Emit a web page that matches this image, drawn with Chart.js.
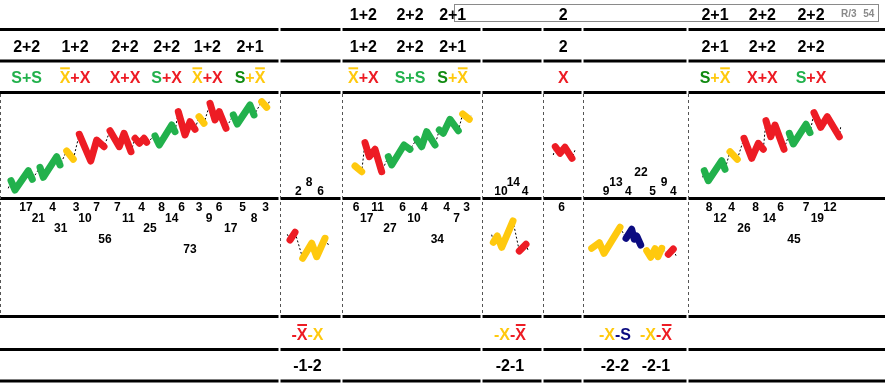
<!DOCTYPE html>
<html><head><meta charset="utf-8">
<script src="https://cdn.jsdelivr.net/npm/chart.js@4/dist/chart.umd.min.js"></script>
<style>html,body{margin:0;padding:0;background:#fff;overflow:hidden}canvas{display:block}</style>
</head><body><canvas id="c" width="885" height="387"></canvas>
<script>
// ---------- DATA ----------
// header rows
const headerTopLabels = ['1+2','2+2','2+1','2','2+1','2+2','2+2'];
const headerTopX = [363.3,410,452.7,563.3,715,762.3,811];
const countLabels = ['2+2','1+2','2+2','2+2','1+2','2+1','1+2','2+2','2+1','2','2+1','2+2','2+2'];
const patternLabels = ['S+S','Xb+X','X+X','S+X','Xb+X','S+Xb','Xb+X','S+S','S+Xb','X','S+Xb','X+X','S+X'];
const labelX = [26.7,75,125,166.7,207.3,250,363.3,410,452.7,563.3,715,762.3,811];
// bottom rows
const bottomPatternLabels = ['-Xb-X','-X-Xb','-X-S','-X-Xb'];
const bottomCountLabels = ['-1-2','-2-1','-2-2','-2-1'];
const bottomX = [307.5,510,615,656];
// column boundaries (x units)
const columnBounds = [0,279.5,341.5,481.5,542.5,582.5,687.5,885];

// wave segments: kind S / X / Xb ; points [x, level]
const upLeftLead = [8.3,9.7], upLeftTail = [269.3,96.3];
const upLeftSegs = [
  {kind:'S', v:[[11,17.3],[15,8],[28.3,27.3],[32.3,18.7]]},
  {kind:'S', v:[[40,30.7],[43.3,20.7],[56.7,41.3],[60,33]]},
  {kind:'Xb',v:[[66.7,47],[73.3,38.7]]},
  {kind:'X', v:[[79.3,63.7],[90.7,37],[96.7,58],[104,51.3]]},
  {kind:'X', v:[[110,67.3],[119.3,51.3],[124,64.7],[131,46.3]]},
  {kind:'X', v:[[135,59.7],[139.3,54.7],[144,59.7],[146.7,55.7]]},
  {kind:'S', v:[[155,62],[159.3,53],[171.7,73],[175,66.3]]},
  {kind:'X', v:[[178.3,86.3],[185,63],[190,76.3],[195,68.7]]},
  {kind:'Xb',v:[[199,81.3],[204,74.7]]},
  {kind:'X', v:[[210,94.7],[215,78],[219.3,86.3],[226,69.7]]},
  {kind:'S', v:[[233.3,83],[237.3,74],[250,93],[254,83]]},
  {kind:'Xb',v:[[261.7,96.3],[266.7,90.7]]}
];
const upMidLead = null, upMidTail = [471.7,84];
const upMidSegs = [
  {kind:'Xb',v:[[355,32],[361.7,26.3]]},
  {kind:'X', v:[[365,55.3],[369.3,41.3],[375,48.7],[381.7,26.3]]},
  {kind:'S', v:[[388.3,41.3],[391.7,33],[404,53],[410,48.7]]},
  {kind:'S', v:[[416.7,58.7],[421.7,51.3],[426.7,66.3],[435,53]]},
  {kind:'S', v:[[439.3,68],[443.3,64.7],[450,78.7],[458.3,67.3]]},
  {kind:'Xb',v:[[462.7,84],[469.3,78.7]]}
];
const upXLead = [553.3,43], upXTail = [575,48];
const upXSegs = [
  {kind:'X', v:[[555.3,51.3],[560,44.7],[565,50.7],[572,39.7]]}
];
const upRightLead = [702.7,20.7], upRightTail = [840.7,71.3];
const upRightSegs = [
  {kind:'S', v:[[704.3,27.3],[708.3,17.3],[721.7,37.3],[725,28.7]]},
  {kind:'Xb',v:[[730,46.3],[737.3,38.7]]},
  {kind:'X', v:[[744,59.7],[751.7,39.7],[758.3,54.7],[763.3,48.7]]},
  {kind:'X', v:[[766,77.3],[770.7,61.3],[775,73],[784,48.7]]},
  {kind:'S', v:[[789.3,64.7],[793.3,54],[806,73.7],[810,65.3]]},
  {kind:'X', v:[[814,85.3],[820.7,70.7],[827.3,81.3],[839.3,61.3]]}
];
const dnALead = [287.3,-36.3], dnATail = [329.3,-48.7];
const dnASegs = [
  {kind:'Xb',v:[[290,-42],[295,-34.3]]},
  {kind:'X', v:[[302.7,-60.3],[311.7,-45.3],[316.7,-58.7],[325,-40.3]]}
];
const dnBLead = [491.7,-36.7], dnBTail = [528.3,-53];
const dnBSegs = [
  {kind:'X', v:[[493.3,-44.3],[497.3,-38],[501.7,-49.3],[513,-23]]},
  {kind:'Xb',v:[[519.3,-53],[526,-46.3]]}
];
const dnCLead = null, dnCTail = [676,-57.7];
const dnCSegs = [
  {kind:'X', v:[[591.7,-50.3],[599.3,-44.7],[604,-55.3],[620,-29.3]]},
  {kind:'S', v:[[626,-40.3],[631.7,-31.3],[634.3,-41.3],[636.7,-38],[640.7,-47]]},
  {kind:'X', v:[[646.7,-52.7],[650.7,-59.3],[655,-50.7],[658,-58.7],[661.7,-50.3]]},
  {kind:'Xb',v:[[668.3,-56.3],[673.3,-51]]}
];

// count numbers
const upNumsA = [2,8,6], upNumsAX = [298.3,309,320.7], upNumsALvl = [0,1,0];
const upNumsB = [10,14,4], upNumsBX = [501,513.3,525], upNumsBLvl = [0,1,0];
const upNumsC = [9,13,4,22,5,9,4], upNumsCX = [606,616,628.3,641,652.7,664,673.3], upNumsCLvl = [0,1,0,2,0,1,0];
const dnNumsL = [17,21,4,31,3,10,7,56,7,11,4,25,8,14,6,73,3,9,6,17,5,8,3];
const dnNumsLX = [26,38.3,52.7,60.7,76,85,96.7,105,117.3,128.3,141.7,150,161.7,171.7,181.7,190,199,209,219,230.7,242.7,254,265.7];
const dnNumsLLvl = [0,1,0,2,0,1,0,3,0,1,0,2,0,1,0,4,0,1,0,2,0,1,0];
const dnNumsM = [6,17,11,27,6,10,4,34,4,7,3];
const dnNumsMX = [356,366.7,377.7,390,402.7,414,424.3,437.3,446.7,456.7,466.7];
const dnNumsMLvl = [0,1,0,2,0,1,0,3,0,1,0];
const dnNumsX = [6], dnNumsXX = [561.7], dnNumsXLvl = [0];
const dnNumsR = [8,12,4,26,8,14,6,45,7,19,12];
const dnNumsRX = [709,720,731.7,744,755.7,769.3,780.7,794,806,817.3,830];
const dnNumsRLvl = [0,1,0,2,0,1,0,3,0,1,0];

// ---------- STYLE ----------
const COL = {
  up:{S:'#22b14c', X:'#ed1c24', Xb:'#ffc90e'},
  dn:{S:'#0b0b80', X:'#ffc90e', Xb:'#ed1c24'}
};
const DARKGREEN = '#108a10';
const FONT = '"Liberation Sans", Arial, sans-serif';

const panels = [
  {side:'up', lead:upLeftLead, tail:upLeftTail, segs:upLeftSegs},
  {side:'up', lead:upMidLead, tail:upMidTail, segs:upMidSegs},
  {side:'up', lead:upXLead, tail:upXTail, segs:upXSegs},
  {side:'up', lead:upRightLead, tail:upRightTail, segs:upRightSegs},
  {side:'dn', lead:dnALead, tail:dnATail, segs:dnASegs},
  {side:'dn', lead:dnBLead, tail:dnBTail, segs:dnBSegs},
  {side:'dn', lead:dnCLead, tail:dnCTail, segs:dnCSegs}
];
const toPts = a => a.map(p => ({x:p[0], y:p[1]}));
const datasets = [];
panels.forEach(p => {
  const path = [];
  if (p.lead) path.push(p.lead);
  p.segs.forEach(s => path.push(...s.v));
  if (p.tail) path.push(p.tail);
  datasets.push({data:toPts(path), showLine:true, borderColor:'#000', borderWidth:1, borderDash:[2,2],
    pointRadius:0, order:2, tension:0});
  p.segs.forEach(s => datasets.push({data:toPts(s.v), showLine:true, borderColor:COL[p.side][s.kind],
    borderWidth:7, borderCapStyle:'round', borderJoinStyle:'round', pointRadius:0, order:1, tension:0}));
});

function drawPattern(ctx, label, cx, base, side){
  const terms = []; const re = /([+-]?)(Xb|X|S)/g; let m;
  while ((m = re.exec(label))) terms.push({sep:m[1], kind:m[2]});
  const pieces = [];
  terms.forEach((t,i) => {
    let c = COL[side][t.kind];
    if (side==='up' && t.kind==='S' && terms[i+1] && terms[i+1].kind==='Xb') c = DARKGREEN;
    if (t.sep) pieces.push({txt:t.sep, c});
    pieces.push({txt:t.kind==='S'?'S':'X', c, bar:t.kind==='Xb'});
  });
  ctx.font = 'bold 16px ' + FONT;
  let w = 0; pieces.forEach(p => { p.w = ctx.measureText(p.txt).width; w += p.w; });
  let x = cx - w/2;
  ctx.textAlign = 'left'; ctx.textBaseline = 'alphabetic';
  pieces.forEach(p => {
    ctx.fillStyle = p.c; ctx.fillText(p.txt, x, base);
    if (p.bar) ctx.fillRect(x + 0.5, base - 16, p.w - 1, 2);
    x += p.w;
  });
}

const layoutPlugin = {
  id:'layout',
  beforeDatasetsDraw(chart){
    const ctx = chart.ctx, xs = chart.scales.x;
    ctx.save();
    ctx.fillStyle = '#fff'; ctx.fillRect(0,0,chart.width,chart.height);
    // thick row rules
    const rules = [28, 59.5, 91, 197, 315, 348, 379.5];
    ctx.fillStyle = '#000';
    for (let i = 0; i < columnBounds.length-1; i++){
      const a = xs.getPixelForValue(columnBounds[i]) + (i ? 1 : 0);
      const b = xs.getPixelForValue(columnBounds[i+1]) - (i < columnBounds.length-2 ? 1 : 0);
      rules.forEach(y => ctx.fillRect(a, y, b - a, 3));
    }
    // dashed column dividers
    ctx.strokeStyle = '#555'; ctx.lineWidth = 1; ctx.setLineDash([3,3]);
    columnBounds.slice(0,-1).forEach(v => {
      const x = Math.round(xs.getPixelForValue(v)) + 0.5;
      ctx.beginPath(); ctx.moveTo(x, 94); ctx.lineTo(x, 315); ctx.stroke();
    });
    ctx.setLineDash([]);
    // header box
    ctx.strokeStyle = '#8a8a8a';
    ctx.strokeRect(454.5, 4.5, 424, 17);
    ctx.restore();
  },
  afterDatasetsDraw(chart){
    const ctx = chart.ctx, xs = chart.scales.x;
    ctx.save();
    ctx.textAlign = 'center'; ctx.textBaseline = 'alphabetic';
    ctx.fillStyle = '#000'; ctx.font = 'bold 16px ' + FONT;
    headerTopLabels.forEach((t,i) => ctx.fillText(t, xs.getPixelForValue(headerTopX[i]), 20));
    countLabels.forEach((t,i) => ctx.fillText(t, xs.getPixelForValue(labelX[i]), 51.5));
    bottomCountLabels.forEach((t,i) => ctx.fillText(t, xs.getPixelForValue(bottomX[i]), 371));
    patternLabels.forEach((t,i) => drawPattern(ctx, t, xs.getPixelForValue(labelX[i]), 83.3, 'up'));
    bottomPatternLabels.forEach((t,i) => drawPattern(ctx, t, xs.getPixelForValue(bottomX[i]), 340, 'dn'));
    // R/3 54
    ctx.fillStyle = '#8a8a8a'; ctx.font = 'bold 10px ' + FONT; ctx.textAlign = 'center';
    ctx.fillText('R/3', 848.7, 17); ctx.fillText('54', 868.7, 17);
    // count numbers
    ctx.fillStyle = '#000'; ctx.font = 'bold 12px ' + FONT;
    const upN = (nums, xsArr, lv) => nums.forEach((n,i) => ctx.fillText(String(n), xs.getPixelForValue(xsArr[i]), 195.3 - 9.7*lv[i]));
    const dnN = (nums, xsArr, lv) => nums.forEach((n,i) => ctx.fillText(String(n), xs.getPixelForValue(xsArr[i]), 211 + 10.6*lv[i]));
    upN(upNumsA, upNumsAX, upNumsALvl);
    upN(upNumsB, upNumsBX, upNumsBLvl);
    upN(upNumsC, upNumsCX, upNumsCLvl);
    dnN(dnNumsL, dnNumsLX, dnNumsLLvl);
    dnN(dnNumsM, dnNumsMX, dnNumsMLvl);
    dnN(dnNumsX, dnNumsXX, dnNumsXLvl);
    dnN(dnNumsR, dnNumsRX, dnNumsRLvl);
    ctx.restore();
  }
};

new Chart(document.getElementById('c'), {
  type:'scatter',
  data:{datasets},
  options:{
    responsive:false, animation:false, devicePixelRatio:1, events:[],
    layout:{padding:0},
    plugins:{legend:{display:false}, tooltip:{enabled:false}},
    scales:{
      x:{type:'linear', min:0, max:885, display:false},
      y:{type:'linear', min:-189, max:198, display:false}
    }
  },
  plugins:[layoutPlugin]
});
</script>
</body></html>
